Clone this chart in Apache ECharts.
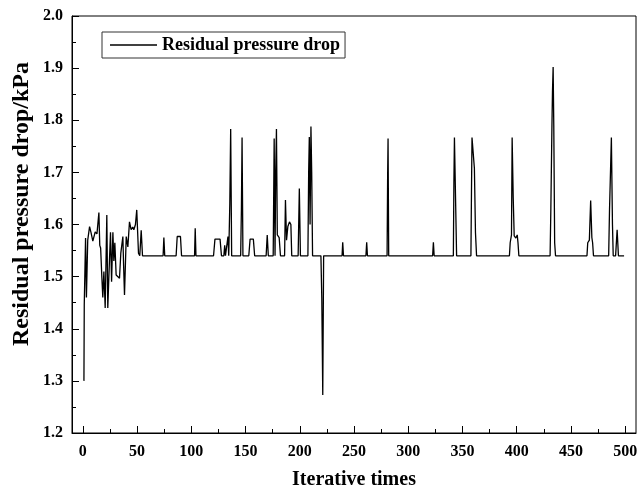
<!DOCTYPE html>
<html>
<head>
<meta charset="utf-8">
<script src="https://cdn.jsdelivr.net/npm/echarts@6/dist/echarts.min.js"></script>
<style>
  html, body { margin: 0; padding: 0; background: #fff; }
  #main { width: 637px; height: 491px; }
</style>
</head>
<body>
<div id="main"></div>
<script>
var chartDom = document.getElementById("main");
var myChart = echarts.init(chartDom);
var option;

// [iteration, residual pressure drop in kPa]
const residualDrop = [
  [1, 1.30], [1.3, 1.445], [2.5, 1.574], [3.3, 1.46], [4.5, 1.57], [6.2, 1.596],
  [7.5, 1.585], [9.2, 1.568], [11.4, 1.586], [13, 1.582], [14.8, 1.623], [15.6, 1.56],
  [16.4, 1.555], [17.5, 1.50], [18.4, 1.46], [19.4, 1.51], [20.6, 1.44], [22.1, 1.618],
  [23, 1.44], [24, 1.50], [25.5, 1.585], [26.5, 1.49], [27.7, 1.585], [28.6, 1.53],
  [29.5, 1.565], [30.7, 1.503], [32.5, 1.50], [33.8, 1.497], [35, 1.545], [36.9, 1.577],
  [37.6, 1.52], [38.4, 1.465], [40, 1.577], [41.5, 1.557], [43, 1.605], [44.5, 1.59],
  [46, 1.595], [47, 1.59], [48.5, 1.60], [49.7, 1.628], [51.3, 1.545], [52.5, 1.54],
  [53.8, 1.589], [55, 1.54],
  [74, 1.54], [74.7, 1.575], [75.5, 1.54],
  [86, 1.54], [87, 1.577], [90, 1.577], [91, 1.54],
  [103, 1.54], [103.6, 1.593], [104.3, 1.54],
  [120.5, 1.54], [121.8, 1.572], [126.5, 1.572], [127.8, 1.54],
  [130, 1.54], [130.8, 1.56], [131.5, 1.54], [133, 1.54], [133.8, 1.577], [134.5, 1.54],
  [135.5, 1.64], [136.3, 1.783], [137.2, 1.54],
  [145.5, 1.54], [146.2, 1.63], [146.8, 1.767], [147.6, 1.54],
  [153, 1.54], [154.2, 1.572], [157.2, 1.572], [158.4, 1.54],
  [169, 1.54], [170, 1.58], [171, 1.54],
  [175.5, 1.54], [176.4, 1.765], [177.2, 1.54], [177.8, 1.70], [178.5, 1.783],
  [179.3, 1.58], [181, 1.575], [182.2, 1.54],
  [186, 1.54], [186.8, 1.647], [187.8, 1.57], [189, 1.596], [190.5, 1.605],
  [191.8, 1.60], [192.6, 1.54],
  [198.5, 1.54], [199.6, 1.669], [200.6, 1.54],
  [207.5, 1.54], [208.2, 1.70], [208.8, 1.768], [209.5, 1.60], [210.3, 1.788],
  [211, 1.70], [211.8, 1.54],
  [219.5, 1.54], [220.3, 1.46], [221.2, 1.273], [222, 1.54],
  [239, 1.54], [239.6, 1.566], [240.3, 1.54],
  [261, 1.54], [261.7, 1.566], [262.4, 1.54],
  [280.5, 1.54], [281, 1.69], [281.4, 1.765], [282, 1.54],
  [322.5, 1.54], [323.2, 1.566], [323.9, 1.54],
  [341.6, 1.54], [342.1, 1.68], [342.6, 1.767], [344, 1.767], [344.6, 1.54],
  [357.8, 1.54], [358.3, 1.66], [358.8, 1.767], [360.2, 1.767], [361, 1.708],
  [362, 1.584], [363, 1.54],
  [393.3, 1.54], [394, 1.565], [395.2, 1.58], [395.8, 1.767], [396.8, 1.651],
  [397.7, 1.578], [399.2, 1.574], [400.5, 1.58], [401.2, 1.565], [402, 1.54],
  [430.8, 1.54], [431.5, 1.63], [432.5, 1.79], [433, 1.855], [433.6, 1.902],
  [434.2, 1.79], [435, 1.565], [435.8, 1.54],
  [464.8, 1.54], [465.5, 1.565], [467, 1.57], [468.2, 1.646], [469.3, 1.575],
  [470, 1.565], [470.8, 1.54],
  [484.8, 1.54], [485.6, 1.63], [487.3, 1.767], [488.3, 1.60], [489, 1.54],
  [491.2, 1.54], [492.6, 1.59], [493.8, 1.54],
  [499, 1.54]
];

const xMajorTicks = [0, 50, 100, 150, 200, 250, 300, 350, 400, 450, 500];
const xMinorTicks = [25, 75, 125, 175, 225, 275, 325, 375, 425, 475];

const font = "'Liberation Serif', 'Times New Roman', serif";

option = {
  animation: false,
  backgroundColor: "#fff",
  grid: {
    left: 72,
    right: 1,
    top: 16,
    bottom: 58,
    outerBoundsMode: "none",
    containLabel: false,
    show: true,
    borderColor: "#000",
    borderWidth: 1,
  },
  legend: {
    left: 102,
    top: 32,
    padding: [4, 5, 4, 8],
    icon: "rect",
    itemWidth: 47,
    itemHeight: 1.5,
    borderColor: "#333",
    borderWidth: 1,
    selectedMode: false,
    textStyle: {
      fontFamily: font,
      fontWeight: "bold",
      fontSize: 18,
      color: "#000",
    },
  },
  xAxis: [
    {
      type: "value",
      min: -10,
      max: 510,
      name: "Iterative times",
      nameLocation: "middle",
      nameGap: 37,
      nameTextStyle: {
        fontFamily: font,
        fontWeight: "bold",
        fontSize: 20,
        color: "#000",
      },
      axisLine: { show: true, onZero: false, lineStyle: { color: "#000", width: 1 } },
      axisTick: {
        show: true,
        inside: true,
        length: 7,
        customValues: xMajorTicks,
        lineStyle: { color: "#000" },
      },
      axisLabel: {
        customValues: xMajorTicks,
        margin: 11,
        fontFamily: font,
        fontWeight: "bold",
        fontSize: 16,
        color: "#000",
      },
      splitLine: { show: false },
    },
    {
      type: "value",
      min: -10,
      max: 510,
      position: "bottom",
      axisLine: { show: false, onZero: false },
      axisTick: {
        show: true,
        inside: true,
        length: 4,
        customValues: xMinorTicks,
        lineStyle: { color: "#000" },
      },
      axisLabel: { show: false },
      splitLine: { show: false },
    },
  ],
  yAxis: {
    type: "value",
    min: 1.2,
    max: 2.0,
    interval: 0.1,
    axisLine: { show: true, onZero: false, lineStyle: { color: "#000", width: 1 } },
    axisTick: { show: true, inside: true, length: 7, lineStyle: { color: "#000" } },
    minorTick: { show: true, splitNumber: 2, length: 4, lineStyle: { color: "#000" } },
    axisLabel: {
      margin: 9,
      formatter: (v) => v.toFixed(1),
      fontFamily: font,
      fontWeight: "bold",
      fontSize: 16,
      color: "#000",
    },
    splitLine: { show: false },
  },
  graphic: {
    elements: [
      {
        type: "text",
        x: 22,
        y: 204,
        rotation: Math.PI / 2,
        style: {
          text: "Residual pressure drop/kPa",
          fontFamily: font,
          fontWeight: "bold",
          fontSize: 24,
          fill: "#000",
          align: "center",
          verticalAlign: "middle",
        },
      },
    ],
  },
  series: [
    {
      name: "Residual pressure drop",
      type: "line",
      symbol: "none",
      xAxisIndex: 0,
      lineStyle: { color: "#000", width: 1.3 },
      itemStyle: { color: "#000" },
      data: residualDrop,
    },
  ],
};

option && myChart.setOption(option);
</script>
</body>
</html>
